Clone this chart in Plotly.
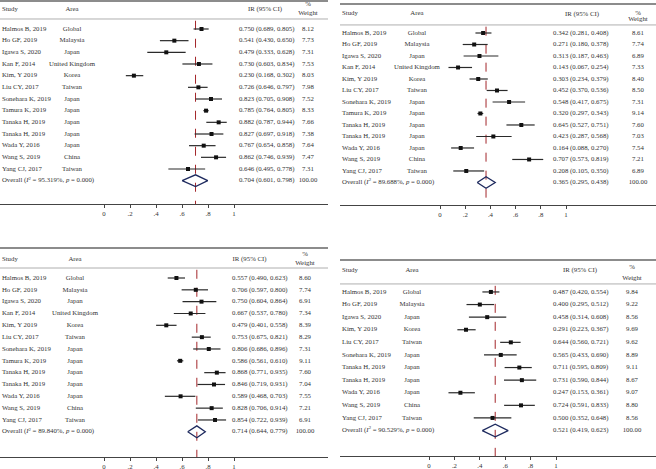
import plotly.graph_objects as go

# ---------------- DATA ----------------
studies_13 = ["Halmos B, 2019", "Ho GF, 2019", "Igawa S, 2020", "Kan F, 2014", "Kim, Y 2019",
              "Liu CY, 2017", "Sonehara K, 2019", "Tamura K, 2019", "Tanaka H, 2019",
              "Tanaka H, 2019", "Wada Y, 2016", "Wang S, 2019", "Yang CJ, 2017"]
areas_13 = ["Global", "Malaysia", "Japan", "United Kingdom", "Korea", "Taiwan", "Japan",
            "Japan", "Japan", "Japan", "Japan", "China", "Taiwan"]

studies_11 = ["Halmos B, 2019", "Ho GF, 2019", "Igawa S, 2020", "Kim, Y 2019", "Liu CY, 2017",
              "Sonehara K, 2019", "Tanaka H, 2019", "Tanaka H, 2019", "Wada Y, 2016",
              "Wang S, 2019", "Yang CJ, 2017"]
areas_11 = ["Global", "Malaysia", "Japan", "Korea", "Taiwan", "Japan", "Japan", "Japan",
            "Japan", "China", "Taiwan"]

# Panel A
a_ir = [0.750, 0.541, 0.479, 0.730, 0.230, 0.726, 0.823, 0.785, 0.882, 0.827, 0.767, 0.862, 0.646]
a_lo = [0.689, 0.430, 0.333, 0.603, 0.168, 0.646, 0.705, 0.764, 0.787, 0.697, 0.654, 0.746, 0.495]
a_hi = [0.805, 0.650, 0.628, 0.834, 0.302, 0.797, 0.908, 0.805, 0.944, 0.918, 0.858, 0.939, 0.778]
a_wt = [8.12, 7.73, 7.31, 7.53, 8.03, 7.98, 7.52, 8.33, 7.66, 7.38, 7.64, 7.47, 7.31]
a_overall = [0.704, 0.601, 0.798]
a_i2 = "95.319%"

# Panel B
b_ir = [0.342, 0.271, 0.313, 0.143, 0.303, 0.452, 0.548, 0.320, 0.645, 0.423, 0.164, 0.707, 0.208]
b_lo = [0.281, 0.180, 0.187, 0.067, 0.234, 0.370, 0.417, 0.297, 0.527, 0.287, 0.088, 0.573, 0.105]
b_hi = [0.408, 0.378, 0.463, 0.254, 0.379, 0.536, 0.675, 0.343, 0.751, 0.568, 0.270, 0.819, 0.350]
b_wt = [8.61, 7.74, 6.89, 7.33, 8.40, 8.50, 7.31, 9.14, 7.60, 7.03, 7.54, 7.21, 6.89]
b_overall = [0.365, 0.295, 0.438]
b_i2 = "89.688%"

# Panel C
c_ir = [0.557, 0.706, 0.750, 0.667, 0.479, 0.753, 0.806, 0.586, 0.868, 0.846, 0.589, 0.828, 0.854]
c_lo = [0.490, 0.597, 0.604, 0.537, 0.401, 0.675, 0.686, 0.561, 0.771, 0.719, 0.468, 0.706, 0.722]
c_hi = [0.623, 0.800, 0.864, 0.780, 0.558, 0.821, 0.896, 0.610, 0.935, 0.931, 0.703, 0.914, 0.939]
c_wt = [8.60, 7.74, 6.91, 7.34, 8.39, 8.29, 7.31, 9.11, 7.60, 7.04, 7.55, 7.21, 6.91]
c_overall = [0.714, 0.644, 0.779]
c_i2 = "89.840%"

# Panel D
d_ir = [0.487, 0.400, 0.458, 0.291, 0.644, 0.565, 0.711, 0.731, 0.247, 0.724, 0.500]
d_lo = [0.420, 0.295, 0.314, 0.223, 0.560, 0.433, 0.595, 0.590, 0.153, 0.591, 0.352]
d_hi = [0.554, 0.512, 0.608, 0.367, 0.721, 0.690, 0.809, 0.844, 0.361, 0.833, 0.648]
d_wt = [9.84, 9.22, 8.56, 9.69, 9.62, 8.89, 9.11, 8.67, 9.07, 8.80, 8.56]
d_overall = [0.521, 0.419, 0.623]
d_i2 = "90.529%"

tick_vals = [0, 0.2, 0.4, 0.6, 0.8, 1]
tick_text = ["0", ".2", ".4", ".6", ".8", "1"]

# ---------------- LAYOUT PARAMETERS ----------------
W, H = 656, 469
FONT = "Liberation Serif"
FS = 6.8
TXT = "#333333"

panels = [
    dict(study=studies_13, area=areas_13, ir=a_ir, lo=a_lo, hi=a_hi, wt=a_wt, ov=a_overall, i2=a_i2,
         xpx=(0, 328), xr=(-0.8, 1.723), ypx=(0, 204), yr=(15.0, -2.485),
         cs=-0.785, ca=-0.246, ci=1.038, cih=1.238, cw=1.569,
         h_study=-1.71, h_pct=-2.14, h_wt=-1.37, h_ir=-1.71, top=-2.4, under=-0.857),
    dict(study=studies_13, area=areas_13, ir=b_ir, lo=b_lo, hi=b_hi, wt=b_wt, ov=b_overall, i2=b_i2,
         xpx=(340, 656), xr=(-0.794, 1.714), ypx=(0, 205), yr=(14.96, -2.87),
         cs=-0.778, ca=-0.183, ci=0.897, cih=1.127, cw=1.571,
         h_study=-1.74, h_pct=-1.74, h_wt=-1.22, h_ir=-1.65, top=-2.52, under=-0.70),
    dict(study=studies_13, area=areas_13, ir=c_ir, lo=c_lo, hi=c_hi, wt=c_wt, ov=c_overall, i2=c_i2,
         xpx=(0, 328), xr=(-0.8, 1.723), ypx=(236, 457), yr=(15.13, -3.55),
         cs=-0.785, ca=-0.223, ci=0.985, cih=1.12, cw=1.546,
         h_study=-1.61, h_pct=-2.03, h_wt=-1.27, h_ir=-1.61, top=-2.54, under=-0.845),
    dict(study=studies_11, area=areas_11, ir=d_ir, lo=d_lo, hi=d_hi, wt=d_wt, ov=d_overall, i2=d_i2,
         xpx=(340, 656), xr=(-0.701, 1.787), ypx=(236, 456), yr=(13.02, -4.44),
         cs=-0.685, ca=-0.134, ci=0.976, cih=1.189, cw=1.598,
         h_study=-1.75, h_pct=-1.98, h_wt=-1.11, h_ir=-1.75, top=-2.54, under=-0.635),
]

fig = go.Figure()
shapes = []
layout_axes = {}

for k, p in enumerate(panels):
    n = k + 1
    sx = "" if n == 1 else str(n)
    xa, ya = "x" + sx, "y" + sx
    rows = list(range(len(p["study"])))
    orow = len(rows)

    def txt(xs, ys, texts, pos, size=FS):
        fig.add_trace(go.Scatter(x=xs, y=ys, text=texts, mode="text", textposition=pos,
                                 textfont=dict(family=FONT, size=size, color=TXT),
                                 cliponaxis=False, hoverinfo="skip", showlegend=False,
                                 xaxis=xa, yaxis=ya))

    # headers
    txt([p["cs"]], [p["h_study"]], ["Study"], "middle right")
    txt([p["ca"]], [p["h_study"]], ["Area"], "middle center")
    txt([p["cih"]], [p["h_ir"]], ["IR (95% CI)"], "middle center")
    txt([p["cw"]], [p["h_pct"]], ["%"], "middle center")
    txt([p["cw"]], [p["h_wt"]], ["Weight"], "middle center")

    # rows
    txt([p["cs"]] * len(rows), rows, p["study"], "middle right")
    txt([p["ca"]] * len(rows), rows, p["area"], "middle center")
    ir_txt = [f"{v:.3f} ({l:.3f}, {h:.3f})" for v, l, h in zip(p["ir"], p["lo"], p["hi"])]
    txt([p["ci"]] * len(rows), rows, ir_txt, "middle right")
    txt([p["cw"]] * len(rows), rows, [f"{w:.2f}" for w in p["wt"]], "middle center")

    # overall row
    ov, olo, ohi = p["ov"]
    txt([p["cs"]], [orow], [f"Overall (<i>I</i><sup>2</sup> = {p['i2']}, <i>p</i> = 0.000)"], "middle right")
    txt([p["ci"]], [orow], [f"{ov:.3f} ({olo:.3f}, {ohi:.3f})"], "middle right")
    txt([p["cw"]], [orow], ["100.00"], "middle center")

    # dashed overall line
    shapes.append(dict(type="line", xref=xa, yref=ya, x0=ov, x1=ov, y0=p["under"] + 0.15,
                       y1=p["yr"][0], line=dict(color="#A3262A", width=1, dash="dash"), layer="below"))

    # CI lines
    cx, cy = [], []
    for r, l, h in zip(rows, p["lo"], p["hi"]):
        cx += [l, h, None]
        cy += [r, r, None]
    fig.add_trace(go.Scatter(x=cx, y=cy, mode="lines", line=dict(color="#2a2a2a", width=1.2),
                             hoverinfo="skip", showlegend=False, xaxis=xa, yaxis=ya))
    fig.add_trace(go.Scatter(x=p["ir"], y=rows, mode="markers",
                             marker=dict(symbol="square", size=4, color="#111111"),
                             hoverinfo="skip", showlegend=False, xaxis=xa, yaxis=ya))

    # diamond
    fig.add_trace(go.Scatter(x=[olo, ov, ohi, ov, olo], y=[orow, orow - 0.5, orow, orow + 0.5, orow],
                             mode="lines", fill="toself", fillcolor="rgba(255,255,255,0)",
                             line=dict(color="#1E2A5E", width=1.3),
                             hoverinfo="skip", showlegend=False, xaxis=xa, yaxis=ya))

    # header lines
    shapes.append(dict(type="line", xref=xa + " domain", yref=ya, x0=0, x1=1, y0=p["top"], y1=p["top"],
                       line=dict(color="#666666", width=1.5)))
    shapes.append(dict(type="line", xref=xa + " domain", yref=ya, x0=0, x1=1, y0=p["under"], y1=p["under"],
                       line=dict(color="#9a9a9a", width=0.8)))

    xdom = [p["xpx"][0] / W, p["xpx"][1] / W]
    ydom = [1 - p["ypx"][1] / H, 1 - p["ypx"][0] / H]
    layout_axes["xaxis" + sx] = dict(domain=xdom, range=list(p["xr"]), anchor=ya,
                                     showgrid=False, zeroline=False, showline=True,
                                     linecolor="#444444", linewidth=1, ticks="outside",
                                     ticklen=3, tickwidth=1, tickcolor="#444444",
                                     tickvals=tick_vals, ticktext=tick_text,
                                     tickfont=dict(family=FONT, size=FS, color=TXT), fixedrange=True)
    layout_axes["yaxis" + sx] = dict(domain=ydom, range=list(p["yr"]), anchor=xa, visible=False,
                                     showgrid=False, zeroline=False, fixedrange=True)

fig.update_layout(width=W, height=H, margin=dict(l=0, r=0, t=0, b=0),
                  plot_bgcolor="white", paper_bgcolor="white", shapes=shapes,
                  showlegend=False, hovermode=False, **layout_axes)

fig.write_html("out.html", config={"displayModeBar": False, "staticPlot": True},
               post_script="document.body.style.margin='0';document.body.style.overflow='hidden';")
